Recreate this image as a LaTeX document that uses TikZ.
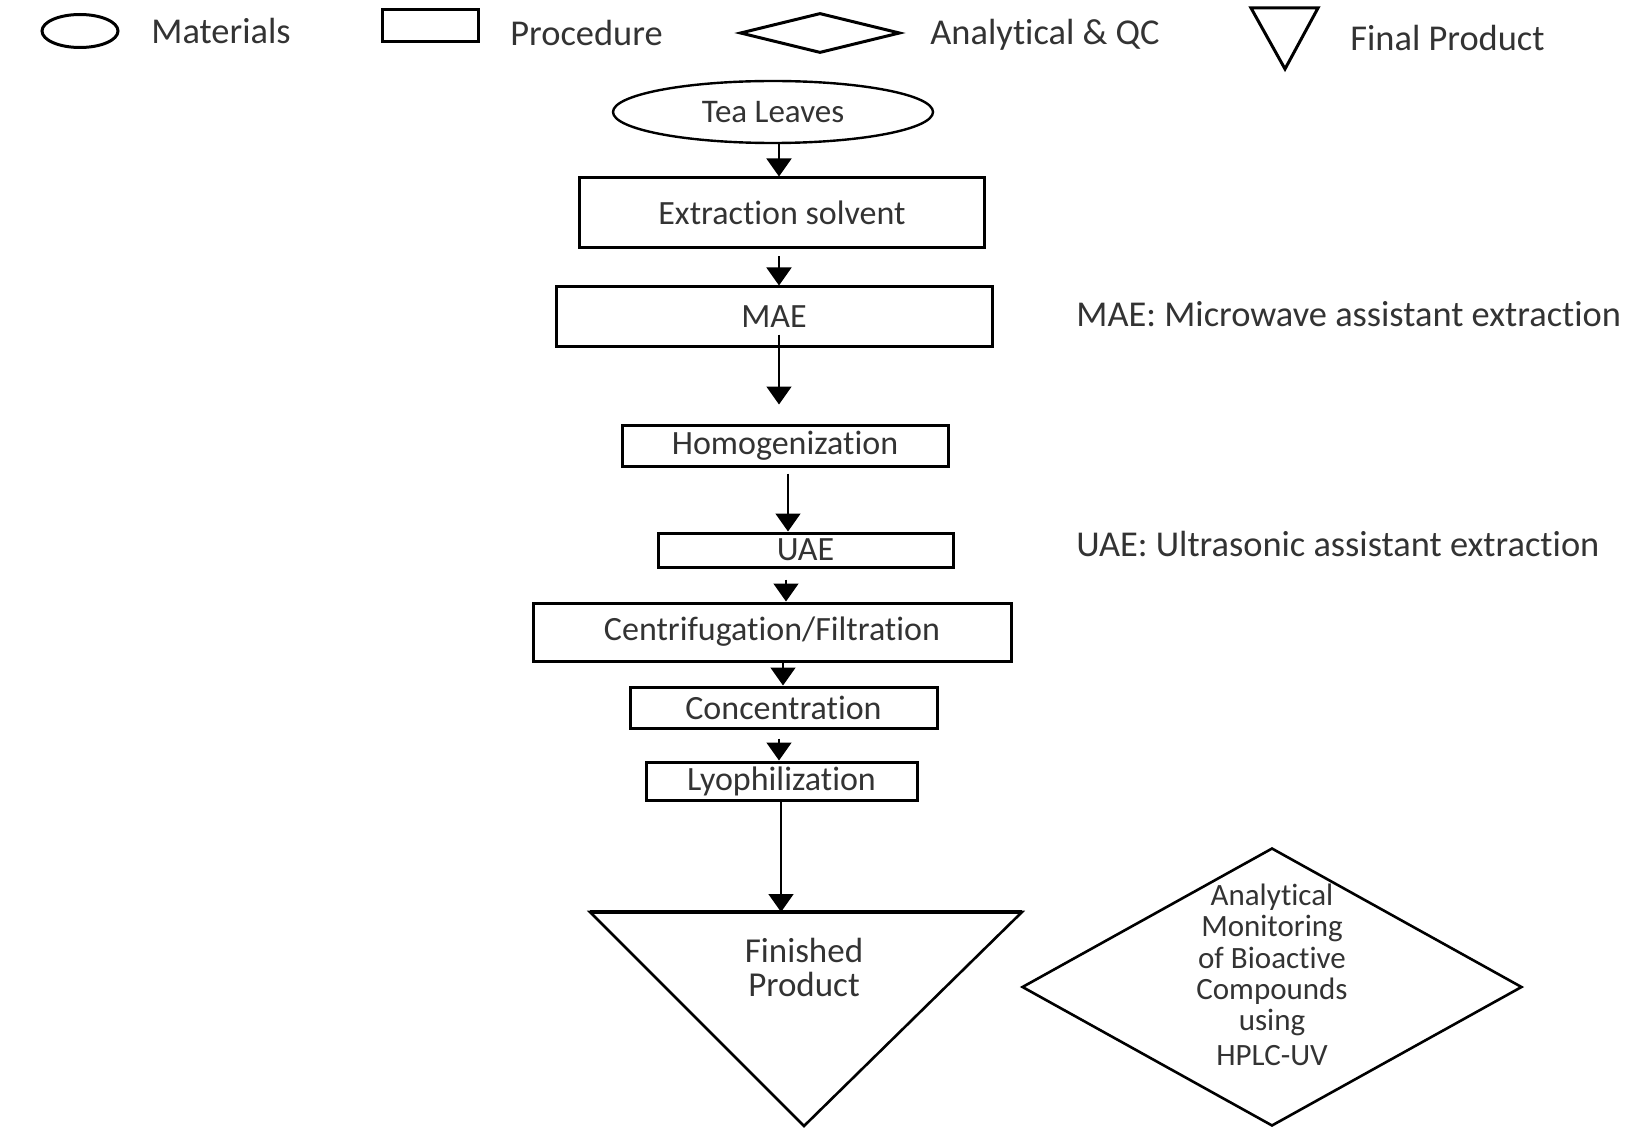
\documentclass[tikz,border=0pt]{standalone}
\usepackage{fontspec}
\setmainfont{Carlito}[Ligatures=NoCommon]
\usetikzlibrary{positioning, shapes.geometric, arrows.meta}

\begin{document}
\begin{tikzpicture}[x=0.5pt, y=-0.5pt,
    legendtext/.style={anchor=west, inner sep=0pt, text=black!80, font=\fontsize{18.2pt}{21pt}\selectfont},
    material/.style={ellipse, draw=black, line width=1.2pt, inner sep=0pt, text=black!80, font=\fontsize{16.5pt}{20pt}\selectfont},
    procbox/.style={rectangle, draw=black, line width=1.5pt, inner sep=0pt, text=black!80, font=\fontsize{17pt}{20pt}\selectfont},
    qcbox/.style={diamond, draw=black, line width=1.3pt, inner sep=0pt},
    qctext/.style={align=center, inner sep=0pt, text=black!80, font=\fontsize{15.5pt}{15.6pt}\selectfont},
    prodline/.style={draw=black, line width=1.3pt, line join=miter},
    prodtext/.style={align=center, inner sep=0pt, text=black!80, font=\fontsize{17.5pt}{17pt}\selectfont},
    flow/.style={draw=black, line width=0.8pt, -{Triangle[length=9pt, width=12.5pt]}},
    note/.style={anchor=west, inner sep=0pt, text=black!80, font=\fontsize{18.2pt}{21pt}\selectfont}
]
    \useasboundingbox (0,0) rectangle (1638,1139);

    % legend
    \node[material, minimum width=38pt, minimum height=16.5pt, line width=1.5pt] (lmat) at (80,31) {};
    \node[legendtext] (lmattext) at (151,31) {Materials};
    \node[procbox, minimum width=48pt, minimum height=16pt] (lproc) at (430,26) {};
    \node[legendtext] (lproctext) at (510,33) {Procedure};
    \node[qcbox, minimum width=80pt, minimum height=20pt, line width=1.5pt] (lqc) at (820,33) {};
    \node[legendtext] (lqctext) at (930,35) {Analytical \& QC};
    \draw[prodline, line width=1.5pt] (1251,8) -- (1318,8) -- (1285,69) -- cycle;
    \node[legendtext] (lprodtext) at (1350,38) {Final Product};

    % process chain
    \node[material, minimum width=160pt, minimum height=31pt] (tea) at (773,112) {Tea Leaves};
    \node[procbox, minimum width=202.5pt, minimum height=35pt] (ext) at (782,213) {Extraction solvent};
    \node[procbox, minimum width=218pt, minimum height=29.5pt] (mae) at (774,316.5) {MAE};
    \node[procbox, minimum width=163pt, minimum height=20.5pt] (homog) at (785,445.5) {Homogenization};
    \node[procbox, minimum width=147.5pt, minimum height=17pt] (uae) at (805.5,550) {UAE};
    \node[procbox, minimum width=239pt, minimum height=29pt] (centr) at (772,632) {Centrifugation/Filtration};
    \node[procbox, minimum width=153.5pt, minimum height=20.5pt] (conc) at (783.5,707.5) {Concentration};
    \node[procbox, minimum width=135.5pt, minimum height=19pt] (lyo) at (781.5,781) {Lyophilization};

    % final product and QC
    \draw[prodline] (590,912) -- (1022,912) -- (804,1126) -- cycle;
    \draw[prodline, line width=2pt] (590,912) -- (1022,912);
    \coordinate (fintop) at (781,912);
    \node[prodtext] (fin) at (804,967) {Finished\\Product};
    \node[qcbox, minimum width=250pt, minimum height=139pt] (qc) at (1272,987) {};
    \node[qctext] (qctxt) at (1272,975) {Analytical\\Monitoring\\of Bioactive\\Compounds\\using\\[2pt]HPLC-UV};

    % notes
    \node[note] (maenote) at (1076,314) {MAE: Microwave assistant extraction};
    \node[note] (uaenote) at (1076,544) {UAE: Ultrasonic assistant extraction};

    % arrows
    \draw[flow] (tea.south-|779,0) -- (ext.north-|779,0);
    \draw[flow, shorten <=3.5pt] (ext.south-|779,0) -- (mae.north-|779,0);
    \draw[flow, shorten <=-6.5pt, shorten >=9.5pt] (mae.south-|779,0) -- (homog.north-|779,0);
    \draw[flow, shorten <=3pt] (homog.south-|788,0) -- (uae.north-|788,0);
    \draw[flow, shorten <=5.5pt] (uae.south-|786,0) -- (centr.north-|786,0);
    \draw[flow] (centr.south-|783,0) -- (conc.north-|783,0);
    \draw[flow, shorten <=4.5pt] (conc.south-|779,0) -- (lyo.north-|779,0);
    \draw[flow] (lyo.south-|781,0) -- (fintop);
\end{tikzpicture}
\end{document}
